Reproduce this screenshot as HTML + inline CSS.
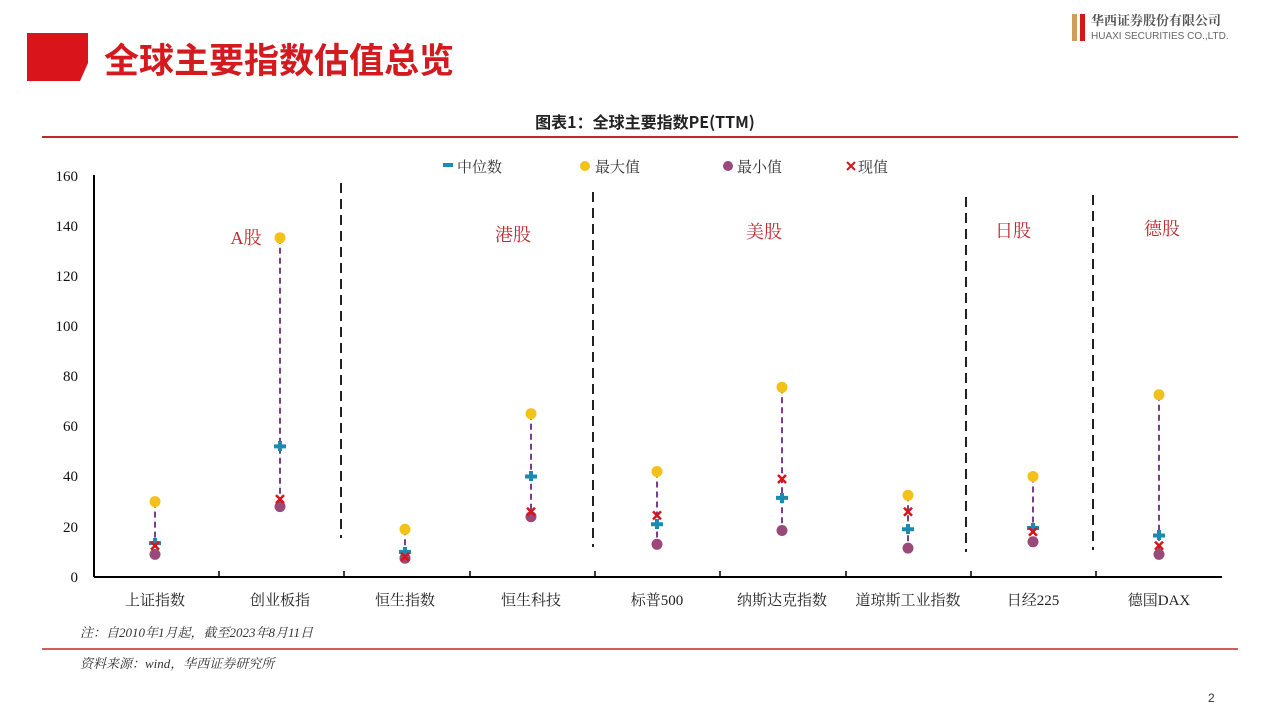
<!DOCTYPE html>
<html><head><meta charset="utf-8"><style>
body{margin:0;width:1268px;height:716px;background:#fff;overflow:hidden;font-family:"Liberation Serif","Noto Serif CJK SC",serif;}
</style></head><body>
<svg width="1268" height="716" xmlns="http://www.w3.org/2000/svg" font-family="Liberation Serif, Noto Serif CJK SC, serif">
<polygon points="27,33 88,33 88,63 80,81 27,81" fill="#d9141b"/>
<text x="104" y="73" font-family="Noto Sans CJK SC, sans-serif" font-weight="bold" font-size="35" fill="#d21a1f">全球主要指数估值总览</text>
<rect x="1072" y="14" width="5" height="27" fill="#c9a15a"/><rect x="1080" y="14" width="5" height="27" fill="#d9141b"/>
<text x="1091" y="25" font-size="13" font-weight="bold" fill="#555" font-family="Noto Serif CJK SC, serif">华西证券股份有限公司</text>
<text x="1091" y="39" font-size="10" fill="#666" font-family="Liberation Sans, sans-serif">HUAXI SECURITIES CO.,LTD.</text>
<text x="645" y="128" text-anchor="middle" font-size="16" font-weight="bold" font-family="Noto Sans CJK SC, sans-serif" fill="#222">图表1：全球主要指数PE(TTM)</text>
<line x1="42" y1="137" x2="1238" y2="137" stroke="#c0282d" stroke-width="2"/>
<line x1="42" y1="649" x2="1238" y2="649" stroke="#c0282d" stroke-width="1.5"/>
<rect x="443" y="163" width="10" height="4" fill="#1d8ab0"/><text x="457" y="172" font-size="15" fill="#333">中位数</text>
<circle cx="585" cy="166" r="5" fill="#f2c21b"/><text x="595" y="172" font-size="15" fill="#333">最大值</text>
<circle cx="728" cy="166" r="5" fill="#9a4a7a"/><text x="737" y="172" font-size="15" fill="#333">最小值</text>
<path d="M847 162L855 170M855 162L847 170" stroke="#d9141b" stroke-width="2"/><text x="858" y="172" font-size="15" fill="#333">现值</text>
<line x1="94" y1="175" x2="94" y2="577" stroke="#000" stroke-width="2"/>
<line x1="94" y1="577" x2="1222" y2="577" stroke="#000" stroke-width="2"/>
<g font-size="15" text-anchor="end" fill="#111">
<text x="78" y="582">0</text><text x="78" y="532">20</text><text x="78" y="481">40</text><text x="78" y="431">60</text><text x="78" y="381">80</text><text x="78" y="331">100</text><text x="78" y="281">120</text><text x="78" y="231">140</text><text x="78" y="181">160</text>
</g>
<g stroke="#000" stroke-width="1.5">
<line x1="219" y1="571" x2="219" y2="577"/><line x1="344" y1="571" x2="344" y2="577"/><line x1="470" y1="571" x2="470" y2="577"/><line x1="595" y1="571" x2="595" y2="577"/><line x1="720" y1="571" x2="720" y2="577"/><line x1="846" y1="571" x2="846" y2="577"/><line x1="971" y1="571" x2="971" y2="577"/><line x1="1096" y1="571" x2="1096" y2="577"/>
</g>
<g font-size="15" text-anchor="middle" fill="#222">
<text x="155" y="605">上证指数</text><text x="280" y="605">创业板指</text><text x="405" y="605">恒生指数</text><text x="531" y="605">恒生科技</text><text x="657" y="605">标普500</text><text x="782" y="605">纳斯达克指数</text><text x="908" y="605">道琼斯工业指数</text><text x="1033" y="605">日经225</text><text x="1159" y="605">德国DAX</text>
</g>
<g stroke="#222" stroke-width="2" stroke-dasharray="10,6">
<line x1="341" y1="183" x2="341" y2="538"/><line x1="593" y1="192" x2="593" y2="547"/><line x1="966" y1="197" x2="966" y2="552"/><line x1="1093" y1="195" x2="1093" y2="550"/>
</g>
<g font-size="18" fill="#c0282d" text-anchor="middle">
<text x="246" y="244">A股</text><text x="513" y="241">港股</text><text x="764" y="238">美股</text><text x="1013" y="237">日股</text><text x="1162" y="235">德股</text>
</g>
<g stroke="#7a3e8e" stroke-width="2" stroke-dasharray="6,4">
<line x1="155" y1="501.6" x2="155" y2="554.4"/>
<line x1="280" y1="237.8" x2="280" y2="506.6"/>
<line x1="405" y1="529.3" x2="405" y2="558.2"/>
<line x1="531" y1="413.7" x2="531" y2="516.7"/>
<line x1="657" y1="471.5" x2="657" y2="544.3"/>
<line x1="782" y1="387.3" x2="782" y2="530.5"/>
<line x1="908" y1="495.3" x2="908" y2="548.1"/>
<line x1="1033" y1="476.5" x2="1033" y2="541.8"/>
<line x1="1159" y1="394.8" x2="1159" y2="554.4"/>
</g>
<g fill="#f2c21b">
<circle cx="155" cy="501.6" r="5.5"/><circle cx="280" cy="237.8" r="5.5"/><circle cx="405" cy="529.3" r="5.5"/><circle cx="531" cy="413.7" r="5.5"/><circle cx="657" cy="471.5" r="5.5"/><circle cx="782" cy="387.3" r="5.5"/><circle cx="908" cy="495.3" r="5.5"/><circle cx="1033" cy="476.5" r="5.5"/><circle cx="1159" cy="394.8" r="5.5"/>
</g>
<g fill="#9a4a7a">
<circle cx="155" cy="554.4" r="5.5"/><circle cx="280" cy="506.6" r="5.5"/><circle cx="405" cy="558.2" r="5.5"/><circle cx="531" cy="516.7" r="5.5"/><circle cx="657" cy="544.3" r="5.5"/><circle cx="782" cy="530.5" r="5.5"/><circle cx="908" cy="548.1" r="5.5"/><circle cx="1033" cy="541.8" r="5.5"/><circle cx="1159" cy="554.4" r="5.5"/>
</g>
<g stroke="#1d8ab0" stroke-width="4">
<path d="M149 543.1h12M155 538v10"/>
<path d="M274 446.4h12M280 441v10"/>
<path d="M399 551.9h12M405 547v10"/>
<path d="M525 476.5h12M531 471v10"/>
<path d="M651 524.2h12M657 519v10"/>
<path d="M776 497.9h12M782 493v10"/>
<path d="M902 529.3h12M908 524v10"/>
<path d="M1027 528h12M1033 523v10"/>
<path d="M1153 535.5h12M1159 530v10"/>
</g>
<g stroke="#d9141b" stroke-width="2.5">
<path d="M151 541.6l8 8M159 541.6l-8 8"/>
<path d="M276 495.1l8 8M284 495.1l-8 8"/>
<path d="M401 552.9l8 8M409 552.9l-8 8"/>
<path d="M527 507.7l8 8M535 507.7l-8 8"/>
<path d="M653 511.4l8 8M661 511.4l-8 8"/>
<path d="M778 475l8 8M786 475l-8 8"/>
<path d="M904 507.7l8 8M912 507.7l-8 8"/>
<path d="M1029 527.8l8 8M1037 527.8l-8 8"/>
<path d="M1155 541.6l8 8M1163 541.6l-8 8"/>
</g>
<text x="80" y="637" font-size="13" font-style="italic" fill="#333">注：自2010年1月起，截至2023年8月11日</text>
<text x="80" y="668" font-size="13" font-style="italic" fill="#333">资料来源：wind，华西证券研究所</text>
<text x="1208" y="702" font-size="12" fill="#333" font-family="Liberation Sans, sans-serif">2</text>
</svg>
</body></html>
